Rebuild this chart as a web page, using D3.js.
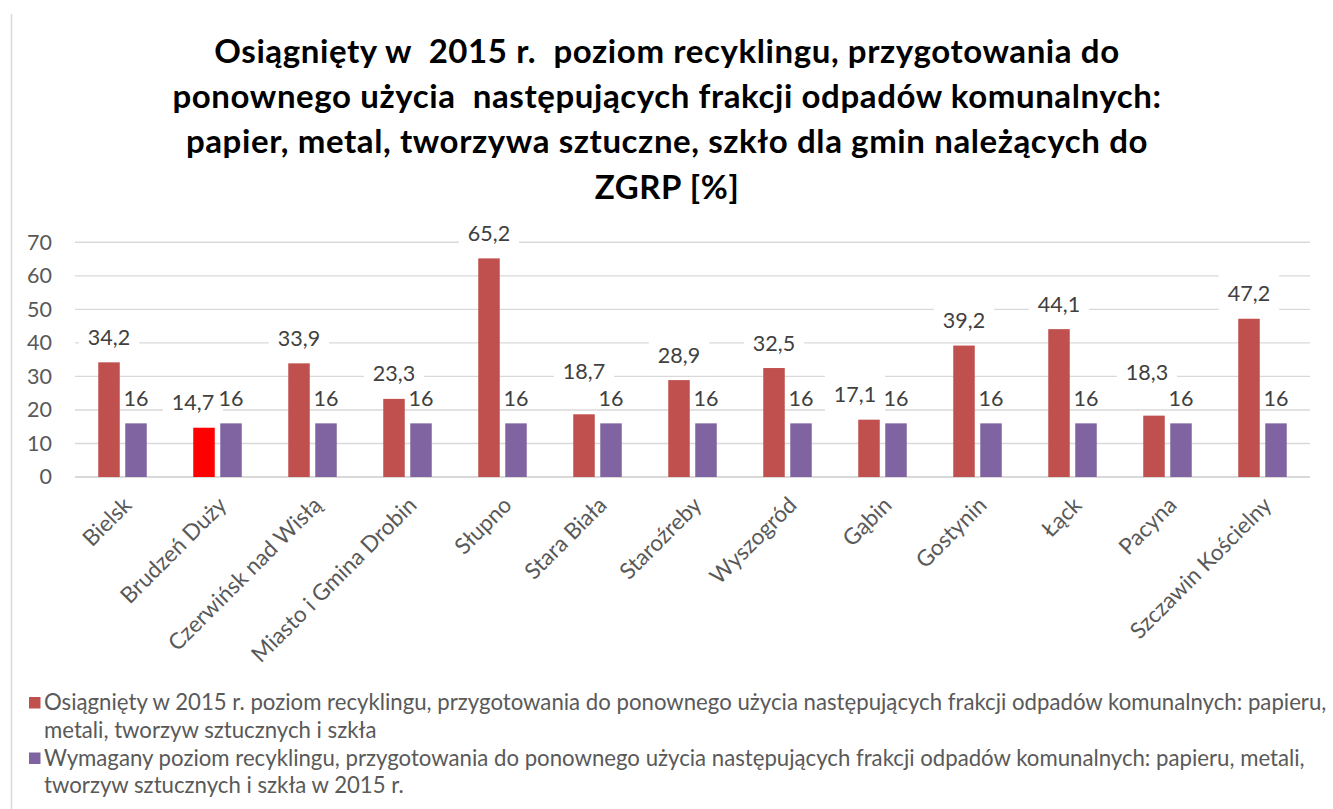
<!DOCTYPE html>
<html><head><meta charset="utf-8">
<script src="https://cdn.jsdelivr.net/npm/d3@7"></script>
<style>html,body{margin:0;padding:0;background:#fff;}svg{display:block;} text{white-space:pre;}</style>
</head><body>
<svg id="chart" width="1333" height="809"></svg>
<script>
// ---- data ----
const categories = ["Bielsk","Brudzeń Duży","Czerwińsk nad Wisłą","Miasto i Gmina Drobin","Słupno","Stara Biała","Staroźreby","Wyszogród","Gąbin","Gostynin","Łąck","Pacyna","Szczawin Kościelny"];
const achieved = [34.2,14.7,33.9,23.3,65.2,18.7,28.9,32.5,17.1,39.2,44.1,18.3,47.2];
const required = [16,16,16,16,16,16,16,16,16,16,16,16,16];
const yTicks = [0,10,20,30,40,50,60,70];
const titleLines = ["Osiągnięty w  2015 r.  poziom recyklingu, przygotowania do","ponownego użycia  następujących frakcji odpadów komunalnych:","papier, metal, tworzywa sztuczne, szkło dla gmin należących do","ZGRP [%]"];
const legendLines = [
  ["Osiągnięty w 2015 r. poziom recyklingu, przygotowania do ponownego użycia następujących frakcji odpadów komunalnych: papieru,","metali, tworzyw sztucznych i szkła"],
  ["Wymagany poziom recyklingu, przygotowania do ponownego użycia następujących frakcji odpadów komunalnych: papieru, metali,","tworzyw sztucznych i szkła w 2015 r."]
];
const highlightCategory = "Brudzeń Duży";

// ---- styles / layout ----
const RED = "#C0504D", PURPLE = "#8064A2", HIGHLIGHT = "#FF0000";
const FONT = "Lato, 'Open Sans', sans-serif";
// manual label nudges (as placed in the original)
const labelNudge = {"Brudzeń Duży":[-11,0],"Stara Biała":[0,-18],"Gąbin":[-14,0],"Pacyna":[-7,-18]};

const svg = d3.select("#chart");
svg.append("line").attr("x1",11.5).attr("x2",11.5).attr("y1",14).attr("y2",809)
  .attr("stroke","#d9d9d9").attr("stroke-width",1.5);

const x0 = d3.scaleBand().domain(categories).range([75,1310]).padding(0);
const x1 = d3.scaleBand().domain(["a","r"]).range([0,x0.bandwidth()]).paddingInner(0.2037).paddingOuter(0.861);
const y = d3.scaleLinear().domain([0,70]).range([477,242.3]);

// title
const title = svg.append("text").attr("text-anchor","middle").attr("font-family",FONT)
  .attr("font-weight","bold").attr("font-size",33).attr("letter-spacing",0.6).attr("fill","#000");
titleLines.forEach((t,i)=>title.append("tspan").attr("x",667).attr("y",63+i*45.2).text(t));

// gridlines
svg.append("g").selectAll("line").data(yTicks).join("line")
  .attr("x1",75).attr("x2",1310).attr("y1",d=>y(d)).attr("y2",d=>y(d))
  .attr("stroke","#d9d9d9").attr("stroke-width",d=>d===0?2:1.4);

// y axis labels
const yAxis = d3.axisLeft(y).tickValues(yTicks).tickSize(0).tickPadding(0);
const gy = svg.append("g").attr("transform","translate(52,0)").call(yAxis);
gy.select(".domain").remove();
gy.selectAll("text").attr("font-family",FONT).attr("font-size",21.5).attr("fill","#595959");

// bars
const groups = svg.append("g").selectAll("g").data(categories).join("g")
  .attr("transform",d=>`translate(${x0(d)},0)`);
groups.append("rect").attr("x",x1("a")).attr("width",x1.bandwidth())
  .attr("y",(d,i)=>y(achieved[i])).attr("height",(d,i)=>y(0)-y(achieved[i]))
  .attr("fill",d=>d===highlightCategory?HIGHLIGHT:RED);
groups.append("rect").attr("x",x1("r")).attr("width",x1.bandwidth())
  .attr("y",(d,i)=>y(required[i])).attr("height",(d,i)=>y(0)-y(required[i]))
  .attr("fill",PURPLE);

const fmt = v => String(v).replace(".",",");
// red labels with white boxes
const redLab = svg.append("g");
categories.forEach((c,i)=>{
  const n = labelNudge[c]||[0,0];
  const cx = x0(c)+x1("a")+x1.bandwidth()/2+n[0];
  const cy = y(achieved[i])-25+n[1];
  const g = redLab.append("g");
  const r = g.append("rect").attr("fill","#fff");
  const t = g.append("text").attr("x",cx).attr("y",cy).attr("dy","0.35em").attr("text-anchor","middle")
    .attr("font-family",FONT).attr("font-size",21.5).attr("fill","#404040").text(fmt(achieved[i]));
  const w = t.node().getComputedTextLength();
  r.attr("x",cx-w/2-9).attr("width",w+18).attr("y",cy-20).attr("height",40);
});
// purple labels
svg.append("g").selectAll("text").data(categories).join("text")
  .attr("x",d=>x0(d)+x1("r")+x1.bandwidth()/2).attr("y",(d,i)=>y(required[i])-25).attr("dy","0.35em")
  .attr("text-anchor","middle").attr("font-family",FONT).attr("font-size",21.5).attr("fill","#404040")
  .text((d,i)=>fmt(required[i]));

// category labels
svg.append("g").selectAll("text").data(categories).join("text")
  .attr("transform",d=>`translate(${x0(d)+x0.bandwidth()/2+5},501) rotate(-45)`)
  .attr("dy","0.35em").attr("text-anchor","end").attr("font-family",FONT).attr("font-size",22.5)
  .attr("fill","#595959").text(d=>d);

// legend
const colors=[RED,PURPLE];
legendLines.forEach((lines,k)=>{
  const base = 710 + k*55.5;
  svg.append("rect").attr("x",29).attr("y",base-13).attr("width",11.5).attr("height",11.5).attr("fill",colors[k]);
  const t = svg.append("text").attr("font-family",FONT).attr("font-size",22.2).attr("fill","#595959");
  lines.forEach((l,j)=>t.append("tspan").attr("x",44).attr("y",base+j*27.7).text(l));
});
</script>
</body></html>
